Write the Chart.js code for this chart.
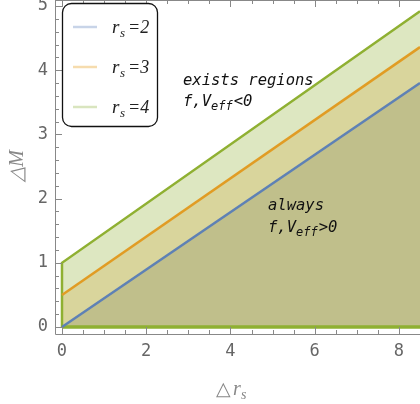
<!DOCTYPE html>
<html><head><meta charset="utf-8">
<script src="https://cdn.jsdelivr.net/npm/chart.js@4"></script>
<style>html,body{margin:0;padding:0;background:#fff}#wrap{width:420px;height:404px;position:relative}</style>
</head><body><div id="wrap"><canvas id="c" width="420" height="404"></canvas></div>
<script>
// Data
const seriesNames = ["2", "3", "4"];
const xEnds = [0, 8.5];
const blueY = [0, 3.80];
const orangeY = [0.5, 4.36];
const greenY = [1.0, 4.92];
const xTicks = [0, 2, 4, 6, 8];
const yTicks = [0, 1, 2, 3, 4, 5];

const lineCols = ["#5e81b5", "#e19c24", "#8fb032"];
const fillCols = ["#c0bf8b", "#d9d59c", "#dde7c1"];
const paleCols = ["#c8d4e8", "#f6dcae", "#d9e5bf"];

const pts = (ys) => xEnds.map((x, i) => ({x: x, y: ys[i]}));

const tickFont = '17px "DejaVu Sans Mono", monospace';

const decor = {
  id: 'decor',
  afterDraw(chart) {
    const ctx = chart.ctx, xs = chart.scales.x, ys = chart.scales.y, a = chart.chartArea;
    ctx.save();
    ctx.strokeStyle = '#888';
    ctx.lineWidth = 1;
    // frame lines
    ctx.beginPath();
    ctx.moveTo(a.left + 0.5, a.top); ctx.lineTo(a.left + 0.5, a.bottom + 0.5); ctx.lineTo(a.right, a.bottom + 0.5);
    ctx.moveTo(a.left, a.top + 0.5); ctx.lineTo(a.right, a.top + 0.5);
    ctx.stroke();
    // x ticks (bottom and top)
    for (let v = 0; v <= 8.5 + 1e-9; v += 0.5) {
      const px = Math.round(xs.getPixelForValue(v)) + 0.5;
      const major = Math.abs(v - Math.round(v / 2) * 2) < 1e-9;
      const len = major ? 7 : 4;
      ctx.beginPath();
      ctx.moveTo(px, a.bottom); ctx.lineTo(px, a.bottom - len);
      ctx.moveTo(px, a.top); ctx.lineTo(px, a.top + len);
      ctx.stroke();
    }
    // y ticks
    for (let i = 0; i <= 25; i++) {
      const v = i * 0.2;
      const py = Math.round(ys.getPixelForValue(v)) + 0.5;
      const major = i % 5 === 0;
      const len = major ? 7 : 4;
      ctx.beginPath();
      ctx.moveTo(a.left, py); ctx.lineTo(a.left + len, py);
      ctx.stroke();
    }
    // tick labels
    ctx.fillStyle = '#666';
    ctx.font = tickFont;
    ctx.textAlign = 'center'; ctx.textBaseline = 'middle';
    xTicks.forEach(v => ctx.fillText(String(v), xs.getPixelForValue(v), a.bottom + 18));
    ctx.textAlign = 'right';
    yTicks.forEach(v => ctx.fillText(String(v), a.left - 7, ys.getPixelForValue(v)));
    // axis titles
    ctx.fillStyle = '#888';
    ctx.font = '19px "Liberation Serif", serif';
    ctx.textAlign = 'left'; ctx.textBaseline = 'alphabetic';
    ctx.fillText('\u25B3', 216, 395);
    ctx.font = 'italic 20px "Liberation Serif", serif';
    ctx.fillText('r', 233, 395);
    ctx.font = 'italic 14px "Liberation Serif", serif';
    ctx.fillText('s', 241, 399);
    ctx.save();
    ctx.translate(23, 166);
    ctx.rotate(-Math.PI / 2);
    ctx.textAlign = 'center';
    ctx.font = 'italic 20px "Liberation Serif", serif';
    ctx.fillText('\u25B3M', 0, 0);
    ctx.restore();
    // annotations
    ctx.fillStyle = '#111';
    ctx.textAlign = 'left';
    const mono = (sz) => 'italic ' + sz + 'px "DejaVu Sans Mono", monospace';
    ctx.font = mono(15.5);
    ctx.fillText('exists regions', 183, 85);
    ctx.fillText('f,V', 183, 106);
    let w = ctx.measureText('f,V').width;
    ctx.font = mono(12);
    ctx.fillText('eff', 183 + w, 110);
    let w2 = ctx.measureText('eff').width;
    ctx.font = mono(15.5);
    ctx.fillText('<0', 183 + w + w2 + 1, 106);
    ctx.fillText('always', 268, 210);
    ctx.fillText('f,V', 268, 232);
    ctx.font = mono(12);
    ctx.fillText('eff', 268 + w, 236);
    ctx.font = mono(15.5);
    ctx.fillText('>0', 268 + w + w2 + 1, 232);
    // legend box
    ctx.fillStyle = '#fff';
    ctx.strokeStyle = '#111';
    ctx.lineWidth = 1.3;
    ctx.beginPath();
    ctx.roundRect(62.5, 3.5, 95, 123, 9);
    ctx.fill(); ctx.stroke();
    seriesNames.forEach((n, i) => {
      const yy = 27 + i * 40;
      ctx.strokeStyle = paleCols[i];
      ctx.lineWidth = 2.5;
      ctx.beginPath(); ctx.moveTo(73, yy); ctx.lineTo(97, yy); ctx.stroke();
      ctx.fillStyle = '#222';
      ctx.font = 'italic 19px "Liberation Serif", serif';
      ctx.fillText('r', 112, yy + 6);
      ctx.font = 'italic 13px "Liberation Serif", serif';
      ctx.fillText('s', 120, yy + 10);
      ctx.font = 'italic 18px "Liberation Serif", serif';
      ctx.fillText('=' + n, 128, yy + 6);
    });
    ctx.restore();
  }
};

new Chart(document.getElementById('c'), {
  type: 'scatter',
  data: {
    datasets: [
      {data: pts(blueY), showLine: true, borderColor: lineCols[0], borderWidth: 2.5, pointRadius: 0, fill: 'origin', backgroundColor: fillCols[0]},
      {data: pts(orangeY), showLine: true, borderColor: lineCols[1], borderWidth: 2.5, pointRadius: 0, fill: 'origin', backgroundColor: fillCols[1]},
      {data: [{x: 0, y: 0}].concat(pts(greenY)), showLine: true, borderColor: lineCols[2], borderWidth: 2.5, pointRadius: 0, fill: 'origin', backgroundColor: fillCols[2]},
      {data: [{x: xEnds[0], y: 0}, {x: xEnds[1], y: 0}], showLine: true, borderColor: lineCols[2], borderWidth: 3.5, pointRadius: 0, fill: false}
    ]
  },
  options: {
    responsive: false, animation: false,
    layout: {padding: {top: 0, right: 0, left: 0, bottom: 0}},
    plugins: {legend: {display: false}, tooltip: {enabled: false}, filler: {drawTime: 'beforeDatasetsDraw'}},
    scales: {
      x: {type: 'linear', min: -0.166, max: 8.5, grid: {display: false}, border: {display: false},
          ticks: {display: false}, afterFit(s) { s.height = 70; }},
      y: {type: 'linear', min: -0.109, max: 5.094, grid: {display: false}, border: {display: false},
          ticks: {display: false}, afterFit(s) { s.width = 55; }}
    }
  },
  plugins: [decor]
});
</script></body></html>
